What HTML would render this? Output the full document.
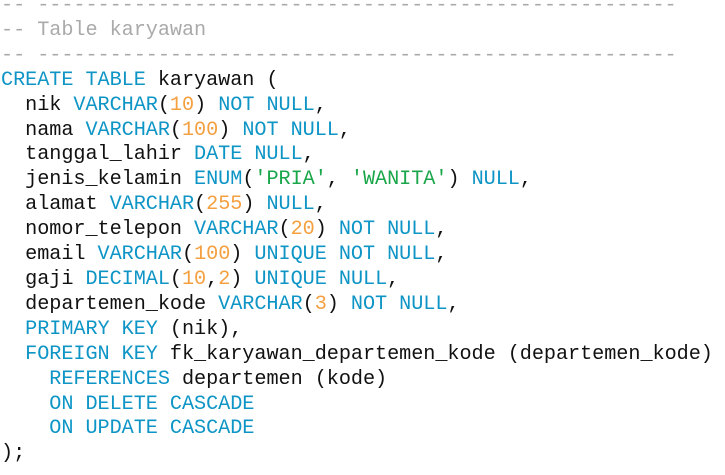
<!DOCTYPE html>
<html><head><meta charset="utf-8"><style>
html,body{margin:0;padding:0;background:#fff;width:725px;height:475px;overflow:hidden}
pre{margin:0;position:absolute;left:1px;top:-6px;font-family:"Liberation Mono","DejaVu Sans Mono",monospace;font-size:20.2px;line-height:24.9px;color:#111;letter-spacing:-0.05px}
.k{color:#0e95c6}.n{color:#f5a040}.s{color:#1aa64a}.c{color:#aaa}
</style></head><body>
<pre><span class="c">-- -----------------------------------------------------</span>
<span class="c">-- Table karyawan</span>
<span class="c">-- -----------------------------------------------------</span>
<span class="k">CREATE TABLE</span> karyawan (
  nik <span class="k">VARCHAR</span>(<span class="n">10</span>) <span class="k">NOT NULL</span>,
  nama <span class="k">VARCHAR</span>(<span class="n">100</span>) <span class="k">NOT NULL</span>,
  tanggal_lahir <span class="k">DATE NULL</span>,
  jenis_kelamin <span class="k">ENUM</span>(<span class="s">'PRIA'</span>, <span class="s">'WANITA'</span>) <span class="k">NULL</span>,
  alamat <span class="k">VARCHAR</span>(<span class="n">255</span>) <span class="k">NULL</span>,
  nomor_telepon <span class="k">VARCHAR</span>(<span class="n">20</span>) <span class="k">NOT NULL</span>,
  email <span class="k">VARCHAR</span>(<span class="n">100</span>) <span class="k">UNIQUE NOT NULL</span>,
  gaji <span class="k">DECIMAL</span>(<span class="n">10</span>,<span class="n">2</span>) <span class="k">UNIQUE NULL</span>,
  departemen_kode <span class="k">VARCHAR</span>(<span class="n">3</span>) <span class="k">NOT NULL</span>,
  <span class="k">PRIMARY KEY</span> (nik),
  <span class="k">FOREIGN KEY</span> fk_karyawan_departemen_kode (departemen_kode)
    <span class="k">REFERENCES</span> departemen (kode)
    <span class="k">ON DELETE CASCADE</span>
    <span class="k">ON UPDATE CASCADE</span>
);</pre>
</body></html>
